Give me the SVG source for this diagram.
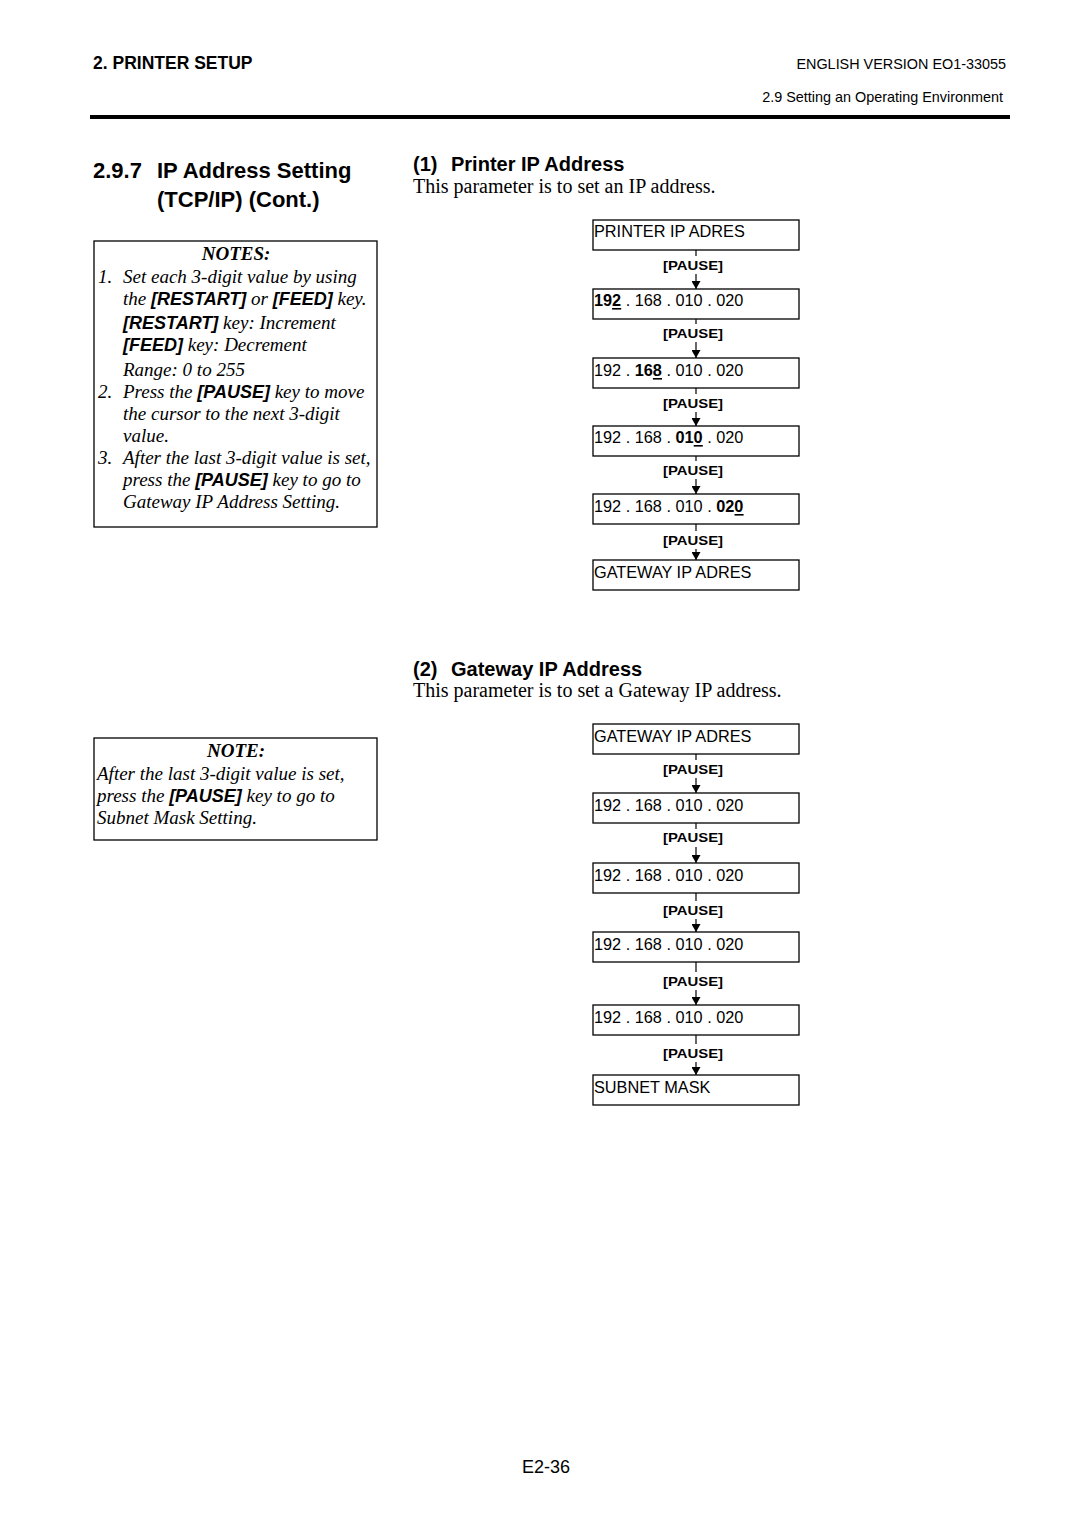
<svg xmlns="http://www.w3.org/2000/svg" width="1080" height="1528" viewBox="0 0 1080 1528">
<style>
.sans{font-family:"Liberation Sans",Arial,sans-serif}
.hd{font-family:"Liberation Sans",Arial,sans-serif;font-weight:bold}
.ser{font-family:"Liberation Serif","Times New Roman",serif}
.it{font-family:"Liberation Serif","Times New Roman",serif;font-style:italic;font-size:19px}
.key{font-family:"Liberation Sans",Arial,sans-serif;font-weight:bold;font-style:italic;font-size:18px}
.box{fill:#fff;stroke:#000;stroke-width:1.3}
.lcd{font-family:"Liberation Sans",Arial,sans-serif;font-size:16.3px}
.pl{font-family:"Liberation Sans",Arial,sans-serif;font-weight:bold;font-size:13px;text-anchor:middle}
.ln{stroke:#000;stroke-width:1.2}
.b{font-weight:bold}
.ul{fill:#000}
</style>
<defs>
<marker id="ah" markerWidth="9" markerHeight="9" refX="8" refY="4.5" orient="auto" markerUnits="userSpaceOnUse">
<path d="M0,0 L8,4.5 L0,9 Z" fill="#000"/>
</marker>
</defs>
<rect width="1080" height="1528" fill="#fff"/>
<g id="header">
<text x="93" y="69" class="hd" font-size="17.5">2. PRINTER SETUP</text>
<text x="1006" y="69" class="sans" font-size="14.4" text-anchor="end">ENGLISH VERSION EO1-33055</text>
<text x="1003" y="102" class="sans" font-size="14.4" text-anchor="end">2.9 Setting an Operating Environment</text>
<rect x="90" y="115" width="920" height="4" fill="#000"/>
</g>
<g id="title">
<text x="93" y="178" class="hd" font-size="22">2.9.7</text>
<text x="157" y="178" class="hd" font-size="22">IP Address Setting</text>
<text x="157" y="207" class="hd" font-size="22">(TCP/IP) (Cont.)</text>
</g>
<g id="notes">
<rect x="94" y="241" width="283" height="286" class="box"/>
<text x="236" y="260" class="it" font-weight="bold" text-anchor="middle">NOTES:</text>
<text x="98" y="283" class="it">1.</text>
<text x="123" y="283" class="it">Set each 3-digit value by using</text>
<text x="123" y="305" class="it">the <tspan class="key">[RESTART]</tspan> or <tspan class="key">[FEED]</tspan> key.</text>
<text x="123" y="329" class="it"><tspan class="key">[RESTART]</tspan> key: Increment</text>
<text x="123" y="351" class="it"><tspan class="key">[FEED]</tspan> key: Decrement</text>
<text x="123" y="376" class="it">Range: 0 to 255</text>
<text x="98" y="398" class="it">2.</text>
<text x="123" y="398" class="it">Press the <tspan class="key">[PAUSE]</tspan> key to move</text>
<text x="123" y="420" class="it">the cursor to the next 3-digit</text>
<text x="123" y="442" class="it">value.</text>
<text x="98" y="464" class="it">3.</text>
<text x="123" y="464" class="it">After the last 3-digit value is set,</text>
<text x="123" y="486" class="it">press the <tspan class="key">[PAUSE]</tspan> key to go to</text>
<text x="123" y="508" class="it">Gateway IP Address Setting.</text>
</g>
<g id="note2">
<rect x="94" y="738" width="283" height="102" class="box"/>
<text x="236" y="757" class="it" font-weight="bold" text-anchor="middle">NOTE:</text>
<text x="97" y="780" class="it">After the last 3-digit value is set,</text>
<text x="97" y="802" class="it">press the <tspan class="key">[PAUSE]</tspan> key to go to</text>
<text x="97" y="824" class="it">Subnet Mask Setting.</text>
</g>
<g id="sec1">
<text x="413" y="171" class="hd" font-size="20">(1)</text>
<text x="451" y="171" class="hd" font-size="20">Printer IP Address</text>
<text x="413" y="193" class="ser" font-size="20">This parameter is to set an IP address.</text>
</g>
<g id="sec2">
<text x="413" y="676" class="hd" font-size="20">(2)</text>
<text x="451" y="676" class="hd" font-size="20">Gateway IP Address</text>
<text x="413" y="697" class="ser" font-size="20">This parameter is to set a Gateway IP address.</text>
</g>
<g id="connectors">
<line x1="696" y1="250" x2="696" y2="256" class="ln"/><line x1="696" y1="274" x2="696" y2="289" class="ln" marker-end="url(#ah)"/>
<line x1="696" y1="319" x2="696" y2="324" class="ln"/><line x1="696" y1="342" x2="696" y2="358" class="ln" marker-end="url(#ah)"/>
<line x1="696" y1="388" x2="696" y2="394" class="ln"/><line x1="696" y1="412" x2="696" y2="426" class="ln" marker-end="url(#ah)"/>
<line x1="696" y1="456" x2="696" y2="461" class="ln"/><line x1="696" y1="479" x2="696" y2="494" class="ln" marker-end="url(#ah)"/>
<line x1="696" y1="524" x2="696" y2="531" class="ln"/><line x1="696" y1="549" x2="696" y2="560" class="ln" marker-end="url(#ah)"/>
<line x1="696" y1="754" x2="696" y2="760" class="ln"/><line x1="696" y1="778" x2="696" y2="793" class="ln" marker-end="url(#ah)"/>
<line x1="696" y1="823" x2="696" y2="829" class="ln"/><line x1="696" y1="847" x2="696" y2="863" class="ln" marker-end="url(#ah)"/>
<line x1="696" y1="893" x2="696" y2="901" class="ln"/><line x1="696" y1="919" x2="696" y2="932" class="ln" marker-end="url(#ah)"/>
<line x1="696" y1="962" x2="696" y2="972" class="ln"/><line x1="696" y1="990" x2="696" y2="1005" class="ln" marker-end="url(#ah)"/>
<line x1="696" y1="1035" x2="696" y2="1044" class="ln"/><line x1="696" y1="1062" x2="696" y2="1075" class="ln" marker-end="url(#ah)"/>
<text x="693" y="270" class="pl" textLength="60" lengthAdjust="spacingAndGlyphs">[PAUSE]</text>
<text x="693" y="338" class="pl" textLength="60" lengthAdjust="spacingAndGlyphs">[PAUSE]</text>
<text x="693" y="408" class="pl" textLength="60" lengthAdjust="spacingAndGlyphs">[PAUSE]</text>
<text x="693" y="475" class="pl" textLength="60" lengthAdjust="spacingAndGlyphs">[PAUSE]</text>
<text x="693" y="545" class="pl" textLength="60" lengthAdjust="spacingAndGlyphs">[PAUSE]</text>
<text x="693" y="774" class="pl" textLength="60" lengthAdjust="spacingAndGlyphs">[PAUSE]</text>
<text x="693" y="842" class="pl" textLength="60" lengthAdjust="spacingAndGlyphs">[PAUSE]</text>
<text x="693" y="915" class="pl" textLength="60" lengthAdjust="spacingAndGlyphs">[PAUSE]</text>
<text x="693" y="986" class="pl" textLength="60" lengthAdjust="spacingAndGlyphs">[PAUSE]</text>
<text x="693" y="1058" class="pl" textLength="60" lengthAdjust="spacingAndGlyphs">[PAUSE]</text>
</g>
<g id="p1"><rect x="593" y="220" width="206" height="30" class="box"/><text x="594" y="237" class="lcd">PRINTER IP ADRES</text></g>
<g id="p2"><rect x="593" y="289" width="206" height="30" class="box"/><text x="594" y="306" class="lcd"><tspan class="b">192</tspan> . 168 . 010 . 020</text><rect x="612.1" y="308" width="9.1" height="1.6" class="ul"/></g>
<g id="p3"><rect x="593" y="358" width="206" height="30" class="box"/><text x="594" y="376" class="lcd">192 . <tspan class="b">168</tspan> . 010 . 020</text><rect x="652.9" y="378" width="9.1" height="1.6" class="ul"/></g>
<g id="p4"><rect x="593" y="426" width="206" height="30" class="box"/><text x="594" y="443" class="lcd">192 . 168 . <tspan class="b">010</tspan> . 020</text><rect x="693.7" y="445" width="9.1" height="1.6" class="ul"/></g>
<g id="p5"><rect x="593" y="494" width="206" height="30" class="box"/><text x="594" y="512" class="lcd">192 . 168 . 010 . <tspan class="b">020</tspan></text><rect x="734.5" y="514" width="9.1" height="1.6" class="ul"/></g>
<g id="p6"><rect x="593" y="560" width="206" height="30" class="box"/><text x="594" y="578" class="lcd">GATEWAY IP ADRES</text></g>
<g id="g1"><rect x="593" y="724" width="206" height="30" class="box"/><text x="594" y="742" class="lcd">GATEWAY IP ADRES</text></g>
<g id="g2"><rect x="593" y="793" width="206" height="30" class="box"/><text x="594" y="811" class="lcd">192 . 168 . 010 . 020</text></g>
<g id="g3"><rect x="593" y="863" width="206" height="30" class="box"/><text x="594" y="881" class="lcd">192 . 168 . 010 . 020</text></g>
<g id="g4"><rect x="593" y="932" width="206" height="30" class="box"/><text x="594" y="950" class="lcd">192 . 168 . 010 . 020</text></g>
<g id="g5"><rect x="593" y="1005" width="206" height="30" class="box"/><text x="594" y="1023" class="lcd">192 . 168 . 010 . 020</text></g>
<g id="g6"><rect x="593" y="1075" width="206" height="30" class="box"/><text x="594" y="1093" class="lcd">SUBNET MASK</text></g>
<g id="footer"><text x="546" y="1473" class="sans" font-size="18" text-anchor="middle">E2-36</text></g>
</svg>
